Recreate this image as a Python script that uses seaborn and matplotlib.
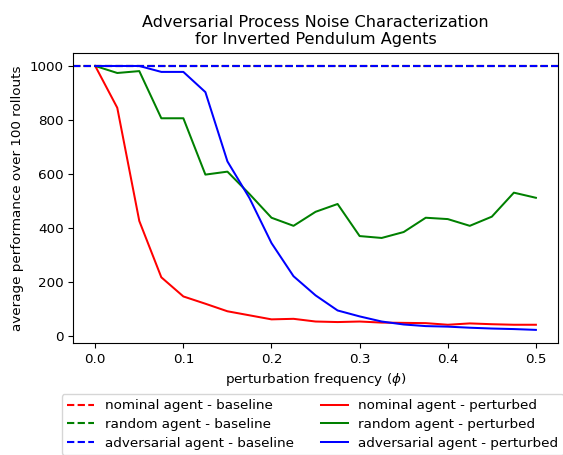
import numpy as np
import pandas as pd
import seaborn as sns
import matplotlib
matplotlib.use("Agg")
import matplotlib.pyplot as plt

# perturbation frequency values
phi = [0.0, 0.025, 0.05, 0.075, 0.1, 0.125, 0.15, 0.175, 0.2, 0.225, 0.25,
       0.275, 0.3, 0.325, 0.35, 0.375, 0.4, 0.425, 0.45, 0.475, 0.5]

# average performance over 100 rollouts (perturbed)
nominal = [1000, 845, 425, 216, 145, 118, 90, 75, 60, 62, 52,
           50, 52, 48, 47, 46, 40, 45, 42, 40, 40]
random_ag = [1000, 974, 981, 806, 806, 597, 608, 525, 437, 407, 459,
             488, 369, 362, 384, 437, 432, 407, 441, 530, 511]
adversarial = [1000, 1000, 1000, 978, 978, 903, 646, 510, 343, 220, 149,
               93, 71, 52, 41, 35, 33, 29, 26, 24, 21]

# baselines (no perturbation)
baselines = [1000, 1000, 1000]

agents = ["nominal agent", "random agent", "adversarial agent"]
colors = ["red", "green", "blue"]

df = pd.DataFrame({
    "phi": phi * 3,
    "perf": nominal + random_ag + adversarial,
    "agent": [a for a in agents for _ in phi],
})

plt.rcParams["font.size"] = 9.7

fig, ax = plt.subplots(figsize=(5.63, 4.55), dpi=100)
fig.subplots_adjust(left=0.130, right=0.991, top=0.884, bottom=0.246)

handles = []
for agent, c, b in zip(agents, colors, baselines):
    h = ax.axhline(b, color=c, linestyle=(0, (3.5, 1.6)), linewidth=1.5,
                   label=agent + " - baseline")
    handles.append(h)

for agent, c in zip(agents, colors):
    sub = df[df["agent"] == agent]
    sns.lineplot(data=sub, x="phi", y="perf", color=c, ax=ax,
                 label=agent + " - perturbed", linewidth=1.45)
    handles.append(ax.lines[-1])

ax.set_xlabel("perturbation frequency ($\\phi$)")
ax.set_ylabel("average performance over 100 rollouts")
ax.set_title("Adversarial Process Noise Characterization\nfor Inverted Pendulum Agents")
ax.set_yticks([0, 200, 400, 600, 800, 1000])

if ax.get_legend() is not None:
    ax.get_legend().remove()
ax.legend(handles=handles, labels=[h.get_label() for h in handles],
          loc="upper center", bbox_to_anchor=(0.494, -0.152), ncol=2,
          labelspacing=0.42)

plt.savefig("out.png", dpi=100)
